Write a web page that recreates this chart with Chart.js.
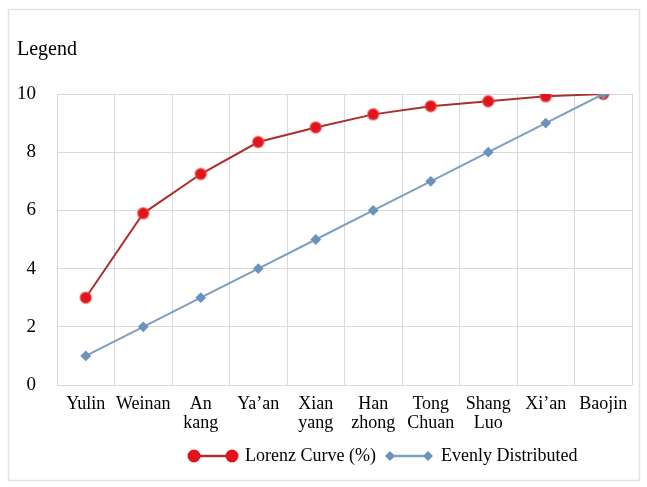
<!DOCTYPE html>
<html>
<head>
<meta charset="utf-8">
<script src="https://cdn.jsdelivr.net/npm/chart.js@4"></script>
<style>
  html, body { margin: 0; padding: 0; background: #fff; }
  #wrap { width: 647px; height: 487px; }
</style>
</head>
<body>
<div id="wrap"><canvas id="lorenzChart"></canvas></div>
<script>
// city categories (multi-line labels as in the figure)
const cities = [['Yulin'], ['Weinan'], ['An', 'kang'], ['Ya\u2019an'], ['Xian', 'yang'],
    ['Han', 'zhong'], ['Tong', 'Chuan'], ['Shang', 'Luo'], ['Xi\u2019an'], ['Baojin']];

// series values
const lorenzValues = [3.0, 5.9, 7.25, 8.35, 8.85, 9.3, 9.58, 9.75, 9.92, 10];
const evenValues = [1, 2, 3, 4, 5, 6, 7, 8, 9, 10];

const yTicks = [0, 2, 4, 6, 8, 10];

const serif = "'Liberation Serif', 'DejaVu Serif', serif";

// little legend symbols: line with a marker at each end
function legendSymbol(color, lineColor, marker) {
    const c = document.createElement('canvas');
    c.width = 52; c.height = 16;
    const ctx = c.getContext('2d');
    ctx.strokeStyle = lineColor;
    ctx.lineWidth = 2.5;
    ctx.beginPath();
    ctx.moveTo(7, 8); ctx.lineTo(45, 8);
    ctx.stroke();
    ctx.fillStyle = color;
    [7, 45].forEach(function (x) {
        ctx.beginPath();
        if (marker === 'circle') {
            ctx.arc(x, 8, 6.5, 0, Math.PI * 2);
        } else {
            ctx.moveTo(x, 3); ctx.lineTo(x + 5, 8); ctx.lineTo(x, 13); ctx.lineTo(x - 5, 8);
            ctx.closePath();
        }
        ctx.fill();
    });
    return c;
}

const redSymbol = legendSymbol('#e0141c', '#a8302e', 'circle');
const blueSymbol = legendSymbol('#6a93bd', '#7d9fbf', 'diamond');

// outer frame + the "Legend" caption at top left
const framePlugin = {
    id: 'frame',
    beforeDraw(chart) {
        const ctx = chart.ctx;
        ctx.save();
        ctx.fillStyle = '#fff';
        ctx.fillRect(0, 0, chart.width, chart.height);
        ctx.strokeStyle = '#e4e4e4';
        ctx.lineWidth = 1.5;
        ctx.strokeRect(8.5, 9.5, 631, 471);
        ctx.fillStyle = '#000';
        ctx.font = '20px ' + serif;
        ctx.textBaseline = 'alphabetic';
        ctx.fillText('Legend', 17, 55);
        ctx.restore();
    },
    afterLayout(chart) {
        // legend sits a little right of centre in the original
        const lg = chart.legend;
        lg.left = 180;
    }
};

const lorenzChart = new Chart(document.getElementById('lorenzChart'), {
    type: 'line',
    data: {
        labels: cities,
        datasets: [
            {
                label: 'Lorenz Curve (%)',
                data: lorenzValues,
                borderColor: '#a8302e',
                backgroundColor: '#e0141c',
                pointBackgroundColor: '#e0141c',
                pointBorderColor: 'rgba(240,70,70,0.55)',
                pointBorderWidth: 2,
                pointRadius: 5.5,
                borderWidth: 2,
                tension: 0,
                order: 2,
                pointStyle: 'circle'
            },
            {
                label: 'Evenly Distributed',
                data: evenValues,
                borderColor: '#7d9fbf',
                backgroundColor: '#6a93bd',
                pointBackgroundColor: '#6a93bd',
                pointBorderColor: '#6a93bd',
                pointRadius: 4,
                borderWidth: 2,
                tension: 0,
                order: 1,
                pointStyle: 'rectRot'
            }
        ]
    },
    options: {
        responsive: true,
        maintainAspectRatio: false,
        animation: false,
        layout: { padding: { top: 94, left: 17, right: 15, bottom: 12 } },
        plugins: {
            legend: {
                position: 'bottom',
                align: 'start',
                labels: {
                    usePointStyle: true,
                    pointStyleWidth: 46,
                    padding: 10,
                    color: '#000',
                    font: { family: serif, size: 18 },
                    generateLabels() {
                        return [
                            { text: 'Lorenz Curve (%)', pointStyle: redSymbol, fillStyle: '#e0141c', strokeStyle: '#e0141c', lineWidth: 0, datasetIndex: 0, fontColor: '#000' },
                            { text: 'Evenly Distributed', pointStyle: blueSymbol, fillStyle: '#6a93bd', strokeStyle: '#6a93bd', lineWidth: 0, datasetIndex: 1, fontColor: '#000' }
                        ];
                    }
                }
            },
            tooltip: { enabled: false }
        },
        scales: {
            x: {
                offset: true,
                grid: { color: '#d9d9d9', offset: true, drawTicks: false },
                border: { display: false },
                afterFit(axis) { axis.height = 52; },
                ticks: {
                    color: '#000',
                    padding: 9,
                    maxRotation: 0,
                    autoSkip: false,
                    font: { family: serif, size: 18, lineHeight: 1.1 }
                }
            },
            y: {
                min: 0,
                max: 10,
                afterBuildTicks(axis) {
                    axis.ticks = yTicks.map(function (v) { return { value: v }; });
                },
                afterFit(axis) { axis.width = 40; },
                grid: { color: '#d9d9d9', drawTicks: false },
                border: { display: false },
                ticks: {
                    color: '#000',
                    padding: 21,
                    font: { family: serif, size: 19 }
                }
            }
        }
    },
    plugins: [framePlugin]
});
</script>
</body>
</html>
